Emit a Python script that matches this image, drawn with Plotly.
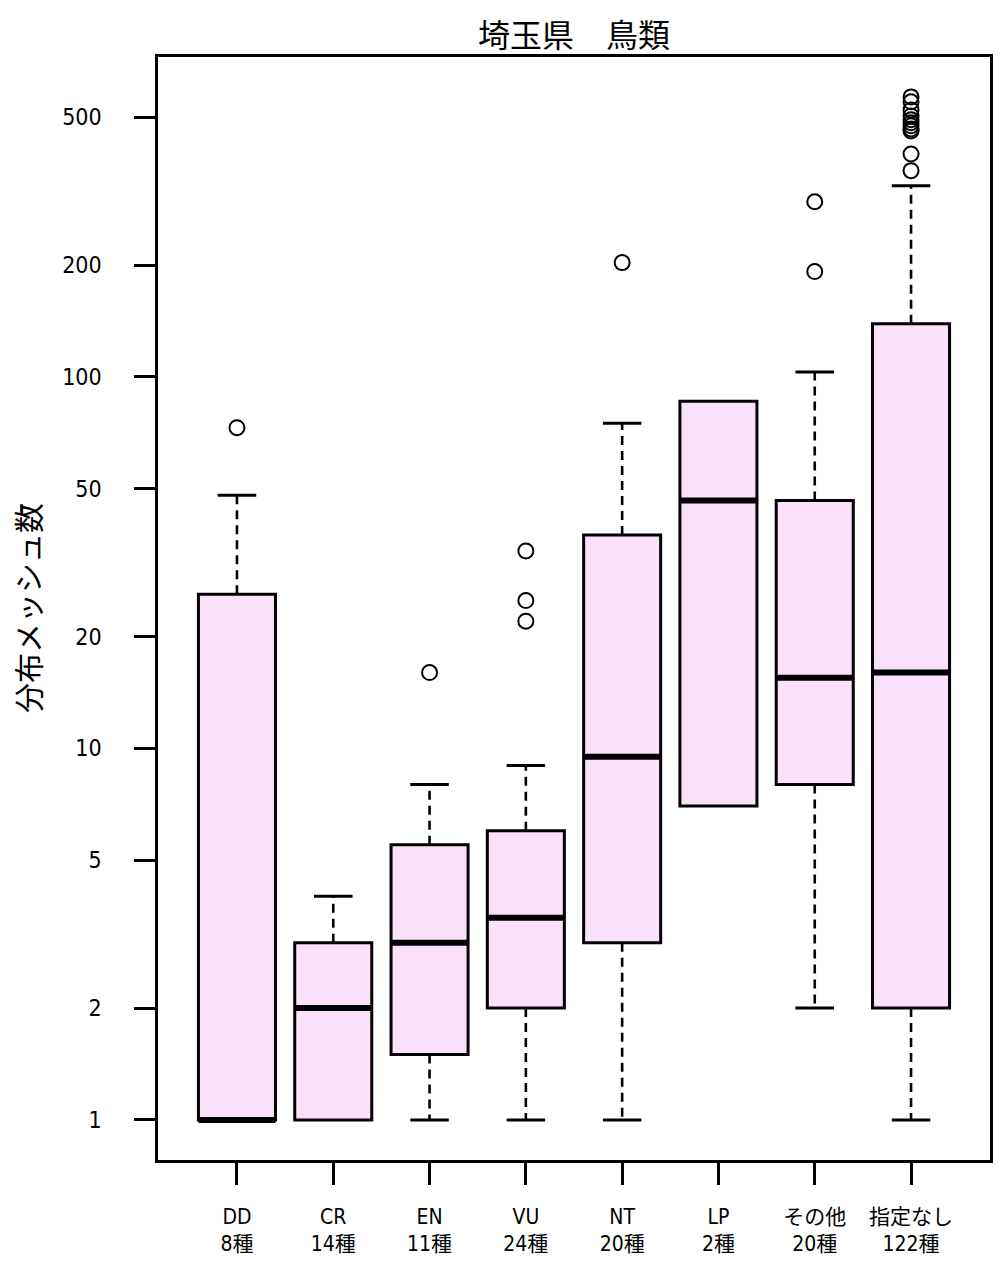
import math
import plotly.graph_objects as go

# ---- data ----
categories = ["DD", "CR", "EN", "VU", "NT", "LP", "その他", "指定なし"]
species_counts = [8, 14, 11, 24, 20, 2, 20, 122]
q1 = [1, 1, 1.5, 2, 3, 7, 8, 2]
median = [1, 2, 3, 3.5, 9.5, 46.5, 15.5, 16]
q3 = [26, 3, 5.5, 6, 37.5, 86, 46.5, 139]
whisker_low = [1, 1, 1, 1, 1, 7, 2, 1]
whisker_high = [48, 4, 8, 9, 75, 86, 103, 327]
outliers = [
    [73],
    [],
    [16],
    [34, 25, 22],
    [203],
    [],
    [296, 192],
    [567, 550, 523, 504, 492, 483, 474, 465, 459, 398, 359],
]
y_ticks = [1, 2, 5, 10, 20, 50, 100, 200, 500]

title_text = "埼玉県　鳥類"
y_title = "分布メッシュ数"

# ---- style ----
BOX_FILL = "#F9E1F9"
BOX_W = 0.8
CAP_W = 0.4
FONT_NUM = "DejaVu Sans Condensed, Liberation Sans Narrow, Noto Sans CJK JP, sans-serif"
FONT_JP = "Noto Sans CJK JP, sans-serif"

# page body has an 8px margin; figure is placed at (8, 8)
OFF = 8
W, H = 1004 - OFF, 1270 - OFF
PL, PR, PT, PB = 158 - OFF, 990 - OFF, 57 - OFF, 1160 - OFF

xpos = list(range(1, len(categories) + 1))
tick_text = [f"{c}<br>{n}種" for c, n in zip(categories, species_counts)]

fig = go.Figure()

# whiskers (dashed) and caps
wx, wy, cx, cy = [], [], [], []
for i, x in enumerate(xpos):
    if whisker_high[i] > q3[i]:
        wx += [x, x, None]
        wy += [q3[i], whisker_high[i], None]
        cx += [x - CAP_W / 2, x + CAP_W / 2, None]
        cy += [whisker_high[i], whisker_high[i], None]
    if whisker_low[i] < q1[i]:
        wx += [x, x, None]
        wy += [q1[i], whisker_low[i], None]
        cx += [x - CAP_W / 2, x + CAP_W / 2, None]
        cy += [whisker_low[i], whisker_low[i], None]

fig.add_trace(go.Scatter(x=wx, y=wy, mode="lines",
                         line=dict(color="black", width=2.6, dash="9px,6px"),
                         showlegend=False, hoverinfo="skip"))
fig.add_trace(go.Scatter(x=cx, y=cy, mode="lines",
                         line=dict(color="black", width=3),
                         showlegend=False, hoverinfo="skip"))

# boxes
fig.add_trace(go.Box(
    x=xpos, q1=q1, median=median, q3=q3,
    lowerfence=q1, upperfence=q3,
    width=BOX_W, whiskerwidth=0,
    fillcolor=BOX_FILL, line=dict(color="black", width=3),
    boxpoints=False, showlegend=False, hoverinfo="skip",
))

# medians (thick)
mx, my = [], []
for i, x in enumerate(xpos):
    mx += [x - BOX_W / 2, x + BOX_W / 2, None]
    my += [median[i], median[i], None]
fig.add_trace(go.Scatter(x=mx, y=my, mode="lines",
                         line=dict(color="black", width=6),
                         showlegend=False, hoverinfo="skip"))

# outliers
ox, oy = [], []
for i, x in enumerate(xpos):
    for v in outliers[i]:
        ox.append(x)
        oy.append(v)
fig.add_trace(go.Scatter(x=ox, y=oy, mode="markers",
                         marker=dict(symbol="circle-open", size=15,
                                     color="black", line=dict(width=2)),
                         showlegend=False, hoverinfo="skip"))

plot_w = PR - PL
plot_h = PB - PT

fig.update_layout(
    width=W, height=H,
    margin=dict(l=PL, r=W - PR, t=PT, b=H - PB),
    paper_bgcolor="white", plot_bgcolor="white",
    title=dict(text=title_text,
               x=(574 - OFF - PL) / plot_w, xref="paper", xanchor="center",
               y=1 - (36 - OFF) / H, yref="container", yanchor="middle",
               font=dict(family=FONT_JP, size=32, color="black")),
    xaxis=dict(range=[0.18, 8.82], tickmode="array", tickvals=xpos,
               ticktext=tick_text, showgrid=False, zeroline=False,
               showline=True, mirror=True, linecolor="black", linewidth=2.5,
               ticks="outside", ticklen=22, tickwidth=3, tickcolor="black",
               ticklabelstandoff=14,
               tickfont=dict(family=FONT_NUM, size=21, color="black")),
    yaxis=dict(type="log", range=[math.log10(0.78), math.log10(726)],
               tickmode="array", tickvals=y_ticks,
               ticktext=[str(v) for v in y_ticks],
               showgrid=False, zeroline=False,
               showline=True, mirror=True, linecolor="black", linewidth=2.5,
               ticks="outside", ticklen=21, tickwidth=3, tickcolor="black",
               ticklabelstandoff=28,
               tickfont=dict(family=FONT_NUM, size=23, color="black")),
    annotations=[dict(text=y_title, textangle=-90,
                      x=(27 - OFF - PL) / plot_w, y=(PB - (608 - OFF)) / plot_h,
                      xref="paper", yref="paper", xanchor="center", yanchor="middle",
                      showarrow=False,
                      font=dict(family=FONT_JP, size=30, color="black"))],
)

fig.write_html("out.html")
